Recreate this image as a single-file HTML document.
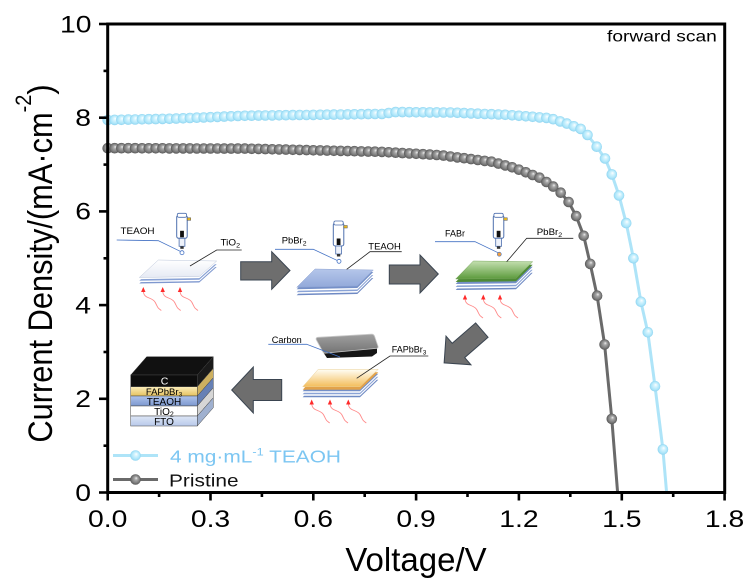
<!DOCTYPE html>
<html><head><meta charset="utf-8">
<style>
html,body{margin:0;padding:0;background:#fff;}
svg{display:block;}
text{font-family:"Liberation Sans",Arial,sans-serif;}
</style></head>
<body>
<svg id="s" width="750" height="588" viewBox="0 0 750 588" xmlns="http://www.w3.org/2000/svg">
<defs>
 <radialGradient id="gb" cx="0.5" cy="0.5" r="0.5" fx="0.58" fy="0.36">
  <stop offset="0" stop-color="#ffffff"/>
  <stop offset="0.3" stop-color="#d6f4fe"/>
  <stop offset="0.75" stop-color="#ade6fa"/>
  <stop offset="1" stop-color="#90d4f0"/>
 </radialGradient>
 <radialGradient id="gg" cx="0.5" cy="0.5" r="0.5" fx="0.58" fy="0.36">
  <stop offset="0" stop-color="#f0f0f0"/>
  <stop offset="0.3" stop-color="#a8a8a8"/>
  <stop offset="0.75" stop-color="#7a7a7a"/>
  <stop offset="1" stop-color="#575757"/>
 </radialGradient>
 <linearGradient id="gW" x1="0" y1="0" x2="0" y2="1"><stop offset="0" stop-color="#ffffff"/><stop offset="1" stop-color="#e6eaf4"/></linearGradient>
 <linearGradient id="gB" x1="0" y1="0" x2="0" y2="1"><stop offset="0" stop-color="#b5c6ea"/><stop offset="1" stop-color="#92a9da"/></linearGradient>
 <linearGradient id="gG" x1="0" y1="0" x2="0" y2="1"><stop offset="0" stop-color="#c4e0b0"/><stop offset="1" stop-color="#5c9a3c"/></linearGradient>
 <linearGradient id="gY" x1="0" y1="0" x2="0" y2="1"><stop offset="0" stop-color="#fffef6"/><stop offset="1" stop-color="#f4bd5a"/></linearGradient>
 <linearGradient id="gY2" x1="0" y1="0" x2="0" y2="1"><stop offset="0" stop-color="#fbeebb"/><stop offset="1" stop-color="#e5c25e"/></linearGradient>
 <linearGradient id="gT" x1="0" y1="0" x2="0" y2="1"><stop offset="0" stop-color="#aec3ea"/><stop offset="1" stop-color="#7b97cf"/></linearGradient>
 <linearGradient id="gF" x1="0" y1="0" x2="0" y2="1"><stop offset="0" stop-color="#dde6f6"/><stop offset="1" stop-color="#b8c9ea"/></linearGradient>
 <linearGradient id="gC" x1="0" y1="0" x2="0" y2="1"><stop offset="0" stop-color="#a0a0a0"/><stop offset="1" stop-color="#747474"/></linearGradient>
 <polygon id="P1" points="158.3,260 216.7,261 199.3,276.5 139.3,277.5"/>
 <polygon id="P2" points="315,269 373.3,270 357.3,286 296.7,287.3"/>
 <polygon id="P3" points="473.3,261 532.7,261.7 516,278.3 455.7,279"/>
 <polygon id="P4" points="318.3,369.3 378.3,369.3 360,386.7 302.7,386.7"/>
 <g id="pip">
  <rect x="0" y="2" width="10.5" height="23" rx="2" fill="#fff" stroke="#4d6fae" stroke-width="1"/>
  <rect x="0.6" y="0" width="9.3" height="4" rx="1.5" fill="#fff" stroke="#4d6fae" stroke-width="0.8"/>
  <rect x="3.4" y="17.5" width="3.8" height="6.5" fill="#111"/>
  <rect x="2.4" y="25" width="5.8" height="8" fill="#eef2fa" stroke="#4d6fae" stroke-width="0.8"/>
  <rect x="3.6" y="33" width="3.4" height="2.5" fill="#333"/>
  <rect x="10.5" y="4.5" width="3.5" height="2.5" fill="#e8b820" stroke="#555" stroke-width="0.5"/>
 </g>
 <g id="heat">
  <path d="M0,3 C0,12 9,9 12,15 S14,20 18,23" fill="none" stroke="#ff8a8a" stroke-width="0.9"/>
  <polygon points="-2.2,4.5 2.2,4.5 0,-0.5" fill="#ff2a2a"/>
 </g>
</defs>

<!-- curves -->
<g id="curves"></g>

<!-- schematic step 1 -->
<g>
 <use href="#P1" y="6" fill="#7f98cf"/>
 <use href="#P1" y="4.6" fill="#ffffff"/>
 <use href="#P1" y="3.2" fill="#8aa3d6"/>
 <use href="#P1" y="1.6" fill="#ffffff"/>
 <use href="#P1" y="0" fill="url(#gW)" stroke="#bcc6da" stroke-width="0.5"/>
 <use href="#pip" x="176.7" y="213.3"/>
 <polyline points="116.7,240 158.3,240.7 181,251.7" fill="none" stroke="#4472c4" stroke-width="0.8"/>
 <circle cx="182" cy="252.7" r="2" fill="#fff" stroke="#4472c4" stroke-width="0.8"/>
 <polyline points="241.7,250 216.7,250 190,266" fill="none" stroke="#222" stroke-width="0.8"/>
 <text transform="translate(120.5,234) scale(1.1,1)" font-size="9">TEAOH</text>
 <text transform="translate(220.5,245.5) scale(1.1,1)" font-size="9">TiO<tspan font-size="6.5" dy="2">2</tspan></text>
 <use href="#heat" x="143.3" y="287.5"/>
 <use href="#heat" x="162.7" y="287.5"/>
 <use href="#heat" x="180" y="287.5"/>
</g>
<polygon points="240.7,261.7 271.7,261.7 271.7,251.7 290,270.5 271.7,289.3 271.7,280 240.7,280" fill="#6e6e6e" stroke="#3a4450" stroke-width="1"/>

<!-- step 2 -->
<g>
 <use href="#P2" y="8" fill="#6f8ac4"/>
 <use href="#P2" y="6.5" fill="#ffffff"/>
 <use href="#P2" y="5" fill="#8aa3d6"/>
 <use href="#P2" y="3.5" fill="#ffffff"/>
 <use href="#P2" y="2" fill="#7590c8"/>
 <use href="#P2" y="0" fill="url(#gB)" stroke="#8ea3d2" stroke-width="0.5"/>
 <use href="#pip" x="333.3" y="221"/>
 <polyline points="275,249.3 313.3,249.3 337.7,260.7" fill="none" stroke="#4472c4" stroke-width="0.8"/>
 <circle cx="339" cy="261.3" r="2" fill="#fff" stroke="#4472c4" stroke-width="0.8"/>
 <polyline points="401.7,251.7 370,251.7 346.7,269.3" fill="none" stroke="#222" stroke-width="0.8"/>
 <text transform="translate(281.7,243.5) scale(1.05,1)" font-size="9">PbBr<tspan font-size="6.5" dy="2">2</tspan></text>
 <text transform="translate(368.3,249.5) scale(1.05,1)" font-size="9">TEAOH</text>
</g>
<polygon points="389.3,265 420,265 420,255 438.3,274 420,293 420,284 389.3,284" fill="#6e6e6e" stroke="#3a4450" stroke-width="1"/>

<!-- step 3 -->
<g>
 <use href="#P3" y="11" fill="#6f8ac4"/>
 <use href="#P3" y="9.5" fill="#ffffff"/>
 <use href="#P3" y="8" fill="#8aa3d6"/>
 <use href="#P3" y="6.5" fill="#ffffff"/>
 <use href="#P3" y="5" fill="#7590c8"/>
 <use href="#P3" y="3" fill="#4e8a34"/>
 <use href="#P3" y="0" fill="url(#gG)" stroke="#7aa860" stroke-width="0.5"/>
 <use href="#pip" x="493.3" y="213.3"/>
 <polyline points="435,241.7 475,241.7 499.3,253.3" fill="none" stroke="#4472c4" stroke-width="0.8"/>
 <circle cx="499.3" cy="254.2" r="2" fill="#f0a040" stroke="#4472c4" stroke-width="0.6"/>
 <polyline points="573.3,238.3 526.7,238.3 506.7,261.7" fill="none" stroke="#222" stroke-width="0.8"/>
 <text transform="translate(445,236.7) scale(1.0,1)" font-size="9">FABr</text>
 <text transform="translate(536.7,235) scale(1.08,1)" font-size="9">PbBr<tspan font-size="6.5" dy="2">2</tspan></text>
 <use href="#heat" x="465" y="295"/>
 <use href="#heat" x="483.3" y="295"/>
 <use href="#heat" x="500" y="295"/>
</g>
<polygon transform="translate(463,346.5) rotate(139)" points="-25,-9.5 6,-9.5 6,-19 25,0 6,19 6,9.5 -25,9.5" fill="#6e6e6e" stroke="#3a4450" stroke-width="1"/>

<!-- step 4 -->
<g>
 <use href="#P4" y="10.5" fill="#6f8ac4"/>
 <use href="#P4" y="9" fill="#ffffff"/>
 <use href="#P4" y="7.5" fill="#8aa3d6"/>
 <use href="#P4" y="6" fill="#ffffff"/>
 <use href="#P4" y="4.5" fill="#7590c8"/>
 <use href="#P4" y="3" fill="#e2a24a"/>
 <use href="#P4" y="0" fill="url(#gY)" stroke="#e8cf98" stroke-width="0.5"/>
 <polygon points="322,350.5 377,345.5 377,353 372,356.5 327,358" fill="#151515"/>
 <path d="M318,337.3 L371.3,334.2 Q373.8,334 374.6,336.4 L378,346.3 Q378.6,348.2 376.5,348.4 L325.3,353.1 Q323.2,353.3 322.6,351.3 L316.2,339.6 Q315.6,337.5 318,337.3 Z" fill="url(#gC)" stroke="#c8c8c8" stroke-width="0.8"/>
 <polyline points="268.3,344.3 306.7,344.3 340,357" fill="none" stroke="#4472c4" stroke-width="0.8"/>
 <polyline points="428.3,356 390,356 356.7,378.3" fill="none" stroke="#222" stroke-width="0.8"/>
 <text transform="translate(271.7,343) scale(1.02,1)" font-size="9">Carbon</text>
 <text transform="translate(391.7,352.5) scale(1.0,1)" font-size="9">FAPbBr<tspan font-size="6.5" dy="2">3</tspan></text>
 <use href="#heat" x="311.7" y="400"/>
 <use href="#heat" x="330" y="400"/>
 <use href="#heat" x="348.3" y="400"/>
</g>
<polygon points="281.7,379.5 253.3,379.5 253.3,367 231.7,390 253.3,413 253.3,400.5 281.7,400.5" fill="#6e6e6e" stroke="#3a4450" stroke-width="1"/>

<!-- final stack -->
<g stroke="#444" stroke-width="0.5">
 <polygon points="130.7,375 146.7,356.7 213.3,356.7 197.3,375" fill="#111"/>
 <polygon points="197.3,375 213.3,356.7 213.3,368.4 197.3,386.7" fill="#1a1a1a"/>
 <polygon points="197.3,386.7 213.3,368.4 213.3,377.7 197.3,396" fill="#cdb060"/>
 <polygon points="197.3,396 213.3,377.7 213.3,387.7 197.3,406" fill="#6680b5"/>
 <polygon points="197.3,406 213.3,387.7 213.3,397.7 197.3,416" fill="#d6d6d6"/>
 <polygon points="197.3,416 213.3,397.7 213.3,407.7 197.3,426" fill="#9fb0cf"/>
 <rect x="130.7" y="375" width="66.6" height="11.7" fill="#0d0d0d"/>
 <rect x="130.7" y="386.7" width="66.6" height="9.3" fill="url(#gY2)"/>
 <rect x="130.7" y="396" width="66.6" height="10" fill="url(#gT)"/>
 <rect x="130.7" y="406" width="66.6" height="10" fill="#ffffff"/>
 <rect x="130.7" y="416" width="66.6" height="10" fill="url(#gF)"/>
</g>
<g font-size="10" text-anchor="middle">
 <text x="164.5" y="384.3" fill="#fff" font-size="10.5">C</text>
 <text x="164" y="395" font-size="9.5">FAPbBr<tspan font-size="6.5" dy="1.5">3</tspan></text>
 <text x="164" y="405">TEAOH</text>
 <text x="164" y="415">TiO<tspan font-size="7" dy="1.5">2</tspan></text>
 <text x="164" y="425">FTO</text>
</g>

<!-- axes -->
<rect x="107.7" y="24" width="617" height="468.5" fill="none" stroke="#000" stroke-width="3"/>
<g stroke="#000" stroke-width="2.6">
 <line x1="99" y1="24" x2="107.7" y2="24"/>
 <line x1="99" y1="117.7" x2="107.7" y2="117.7"/>
 <line x1="99" y1="211.4" x2="107.7" y2="211.4"/>
 <line x1="99" y1="305.1" x2="107.7" y2="305.1"/>
 <line x1="99" y1="398.8" x2="107.7" y2="398.8"/>
 <line x1="99" y1="492.5" x2="107.7" y2="492.5"/>
 <line x1="103.5" y1="70.9" x2="107.7" y2="70.9"/>
 <line x1="103.5" y1="164.6" x2="107.7" y2="164.6"/>
 <line x1="103.5" y1="258.3" x2="107.7" y2="258.3"/>
 <line x1="103.5" y1="352" x2="107.7" y2="352"/>
 <line x1="103.5" y1="445.7" x2="107.7" y2="445.7"/>
 <line x1="107.7" y1="492.5" x2="107.7" y2="500.5"/>
 <line x1="210.5" y1="492.5" x2="210.5" y2="500.5"/>
 <line x1="313.3" y1="492.5" x2="313.3" y2="500.5"/>
 <line x1="416.1" y1="492.5" x2="416.1" y2="500.5"/>
 <line x1="518.9" y1="492.5" x2="518.9" y2="500.5"/>
 <line x1="621.8" y1="492.5" x2="621.8" y2="500.5"/>
 <line x1="724.6" y1="492.5" x2="724.6" y2="500.5"/>
 <line x1="159.1" y1="492.5" x2="159.1" y2="497"/>
 <line x1="261.9" y1="492.5" x2="261.9" y2="497"/>
 <line x1="364.7" y1="492.5" x2="364.7" y2="497"/>
 <line x1="467.5" y1="492.5" x2="467.5" y2="497"/>
 <line x1="570.3" y1="492.5" x2="570.3" y2="497"/>
 <line x1="673.2" y1="492.5" x2="673.2" y2="497"/>
</g>
<g font-size="24" text-anchor="end" fill="#000">
 <text transform="translate(91.5,32.3) scale(1.18,1)">10</text>
 <text transform="translate(91,126) scale(1.18,1)">8</text>
 <text transform="translate(91,219.7) scale(1.18,1)">6</text>
 <text transform="translate(91,313.4) scale(1.18,1)">4</text>
 <text transform="translate(91,407.1) scale(1.18,1)">2</text>
 <text transform="translate(91,500.8) scale(1.18,1)">0</text>
</g>
<g font-size="24" text-anchor="middle" fill="#000">
 <text transform="translate(107.7,527) scale(1.18,1)">0.0</text>
 <text transform="translate(210.5,527) scale(1.18,1)">0.3</text>
 <text transform="translate(313.3,527) scale(1.18,1)">0.6</text>
 <text transform="translate(416.1,527) scale(1.18,1)">0.9</text>
 <text transform="translate(518.9,527) scale(1.18,1)">1.2</text>
 <text transform="translate(621.8,527) scale(1.18,1)">1.5</text>
 <text transform="translate(724.6,527) scale(1.18,1)">1.8</text>
</g>
<text x="416" y="571" font-size="33" text-anchor="middle">Voltage/V</text>
<text transform="translate(52,263.5) rotate(-90) scale(0.906,1)" font-size="34" text-anchor="middle">Current Density/(mA·cm<tspan font-size="22" dy="-21">-2</tspan><tspan dy="21">)</tspan></text>
<text transform="translate(607,41.5) scale(1.2,1)" font-size="16">forward scan</text>

<!-- legend -->
<line x1="113" y1="455.5" x2="158" y2="455.5" stroke="#aee4f8" stroke-width="3"/>
<circle cx="135.5" cy="455.5" r="5.3" fill="url(#gb)"/>
<text transform="translate(170,462.5) scale(1.16,1)" font-size="18" fill="#7cc6f2">4 mg·mL<tspan font-size="11" dy="-7">-1</tspan><tspan dy="7"> TEAOH</tspan></text>
<line x1="113" y1="479.5" x2="158" y2="479.5" stroke="#6a6a6a" stroke-width="3"/>
<circle cx="135.5" cy="479.5" r="5.3" fill="url(#gg)"/>
<text transform="translate(169,486.5) scale(1.16,1)" font-size="18" fill="#111">Pristine</text>
</svg>
<script>
(function(){
var NS="http://www.w3.org/2000/svg";
function X(v){return 107.7+v*342.7;}
function Y(j){return 492.5-j*46.85;}
function interp(a,v){
  for(var i=0;i<a.length-1;i++){
    if(v<=a[i+1][0]){var t=(v-a[i][0])/(a[i+1][0]-a[i][0]);return a[i][1]+t*(a[i+1][1]-a[i][1]);}
  }
  return a[a.length-1][1];
}
var g=document.getElementById('curves');
function series(anch,vmax,knee,end,lc,grad){
  var pts=[],i,v;
  for(i=0;;i++){v=Math.round(i*2)/100; if(v>vmax+1e-6)break; pts.push([v,interp(anch,v)]);}
  knee.forEach(function(p){pts.push(p);});
  var all=pts.concat([end]);
  var s=all.map(function(p){return X(p[0]).toFixed(1)+','+Y(p[1]).toFixed(1);}).join(' ');
  var pl=document.createElementNS(NS,'polyline');
  pl.setAttribute('points',s);pl.setAttribute('fill','none');pl.setAttribute('stroke',lc);pl.setAttribute('stroke-width','3');pl.setAttribute('stroke-linejoin','round');
  g.appendChild(pl);
  pts.forEach(function(p){
    var c=document.createElementNS(NS,'circle');
    c.setAttribute('cx',X(p[0]).toFixed(1));c.setAttribute('cy',Y(p[1]).toFixed(1));
    c.setAttribute('r','5.3');c.setAttribute('fill','url(#'+grad+')');
    g.appendChild(c);
  });
}
series([[0,7.35],[0.4,7.34],[0.8,7.27],[0.97,7.2],[1.12,7.06],[1.186,6.93],[1.225,6.82],[1.263,6.71],[1.30,6.53]],1.30,
  [[1.322,6.40],[1.345,6.20],[1.367,5.90],[1.389,5.48],[1.408,4.88],[1.428,4.20],[1.450,3.16],[1.471,1.57]],
  [1.488,0],'#6a6a6a','gg');
series([[0,7.95],[0.2,7.98],[0.39,8.04],[0.8,8.08],[0.84,8.12],[1.0,8.11],[1.166,8.06],[1.29,7.99],[1.334,7.89],[1.38,7.76],[1.40,7.63]],1.40,
  [[1.427,7.38],[1.451,7.13],[1.471,6.79],[1.492,6.34],[1.513,5.75],[1.534,5.00],[1.556,4.07],[1.576,3.42],[1.597,2.27],[1.620,0.92]],
  [1.631,0],'#aee4f8','gb');
})();
</script>
</body></html>
